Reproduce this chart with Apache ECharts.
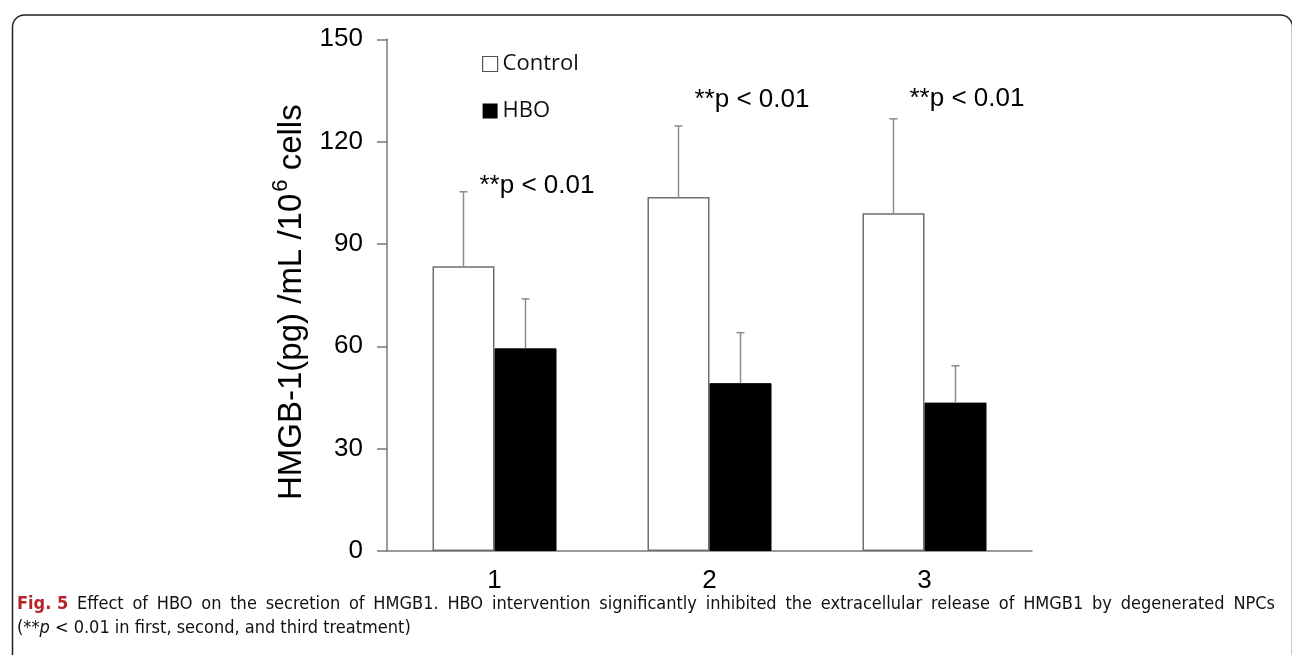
<!DOCTYPE html>
<html>
<head>
<meta charset="utf-8">
<style>
html,body{margin:0;padding:0;background:#fff;}
#c{width:1292px;height:655px;}
</style>
<script src="https://cdn.jsdelivr.net/npm/echarts@6/dist/echarts.min.js"></script>
</head>
<body>
<div id="c"></div>
<script>
var categories = ['1', '2', '3'];
var controlMean = [83.5, 103.8, 99.0];
var controlUpper = [105.3, 124.6, 126.7];
var hboMean = [59.4, 49.2, 43.5];
var hboUpper = [73.9, 64.0, 54.3];
var annotationText = ['**p < 0.01', '**p < 0.01', '**p < 0.01'];
var annotationValue = [107, 132.2, 132.6];
var yTicks = [0, 30, 60, 90, 120, 150];
var captionLabel = 'Fig. 5';
var captionLine1 = 'Effect of HBO on the secretion of HMGB1. HBO intervention significantly inhibited the extracellular release of HMGB1 by degenerated NPCs';

var chart = echarts.init(document.getElementById('c'));
var BAR_W = 62;

function errData(means, uppers) {
  return means.map(function (m, i) { return [i, m, uppers[i]]; });
}
function errRender(side) {
  return function (params, api) {
    var i = api.value(0);
    var p0 = api.coord([i, api.value(1)]);
    var p1 = api.coord([i, api.value(2)]);
    var x = p0[0] + side * BAR_W / 2;
    var style = { stroke: '#8c8c8c', lineWidth: 1.5 };
    return {
      type: 'group',
      children: [
        { type: 'line', shape: { x1: x, y1: p0[1], x2: x, y2: p1[1] }, style: style },
        { type: 'line', shape: { x1: x - 4, y1: p1[1], x2: x + 4, y2: p1[1] }, style: style }
      ]
    };
  };
}

var captionFamily = '"Liberation Sans Narrow", "DejaVu Sans Condensed", sans-serif';
var CAP_SIZE = 18;

// justified first caption line
var ctx = document.createElement('canvas').getContext('2d');
function measure(t, bold) {
  ctx.font = (bold ? 'bold ' : '') + CAP_SIZE + 'px ' + captionFamily;
  return ctx.measureText(t).width;
}
var words = [{ t: captionLabel, bold: true }].concat(captionLine1.split(' ').map(function (w) { return { t: w, bold: false }; }));
var capLeft = 17, capRight = 1275;
var totalW = 0;
words.forEach(function (w) { w.w = measure(w.t, w.bold); totalW += w.w; });
var gap = (capRight - capLeft - totalW) / (words.length - 1);
var captionEls = [];
var cx = capLeft;
words.forEach(function (w) {
  captionEls.push({
    type: 'text', x: cx, y: 604, silent: true,
    style: {
      text: w.t, fontFamily: captionFamily, fontSize: CAP_SIZE,
      fontWeight: w.bold ? 'bold' : 'normal',
      fill: w.bold ? '#b5232b' : '#111', verticalAlign: 'middle', align: 'left'
    }
  });
  cx += w.w + gap;
});
captionEls.push({
  type: 'text', x: capLeft, y: 628, silent: true,
  style: {
    text: '(**{i|p} < 0.01 in first, second, and third treatment)',
    fontFamily: captionFamily, fontSize: CAP_SIZE, fill: '#111', verticalAlign: 'middle', align: 'left',
    rich: { i: { fontFamily: captionFamily, fontSize: CAP_SIZE, fontStyle: 'italic', fill: '#111' } }
  }
});

var option = {
  animation: false,
  backgroundColor: '#fff',
  grid: { left: 387, right: 260, top: 39.3, bottom: 104, containLabel: false },
  legend: {
    orient: 'vertical',
    left: 477,
    top: 46,
    icon: 'rect',
    itemWidth: 15,
    itemHeight: 15,
    itemGap: 21,
    textStyle: { fontFamily: 'Open Sans', fontSize: 22, color: '#111', lineHeight: 26 },
    data: [
      { name: 'Control', itemStyle: { color: '#fff', borderColor: '#555', borderWidth: 1.2 } },
      { name: 'HBO', itemStyle: { color: '#000', borderColor: '#000', borderWidth: 0 } }
    ]
  },
  xAxis: {
    type: 'category',
    data: categories,
    axisLine: { lineStyle: { color: '#7a7a7a', width: 1.5 } },
    axisTick: { show: false },
    axisLabel: { fontFamily: 'Liberation Sans', fontSize: 26, color: '#000', margin: 17 }
  },
  yAxis: {
    type: 'value',
    min: 0,
    max: 150,
    interval: 30,
    splitLine: { show: false },
    axisLine: { show: true, lineStyle: { color: '#7a7a7a', width: 1.5 } },
    axisTick: { show: true, inside: false, length: 10, lineStyle: { color: '#7a7a7a', width: 1.5 } },
    axisLabel: {
      fontFamily: 'Liberation Sans', fontSize: 26, color: '#000', margin: 24,
      formatter: function (v) { return yTicks.indexOf(v) >= 0 ? String(v) : ''; }
    },
    name: '{a|HMGB-1(pg) /mL /10}{s|6}{a| cells}',
    nameLocation: 'middle',
    nameRotate: 90,
    nameGap: 79,
    nameTextStyle: {
      padding: [0, 14, 0, 0],
      rich: {
        a: { fontFamily: 'Liberation Sans', fontSize: 33, color: '#000', verticalAlign: 'bottom', lineHeight: 38 },
        s: { fontFamily: 'Liberation Sans', fontSize: 22, color: '#000', verticalAlign: 'top', lineHeight: 38, padding: [0, 0, 16, 2] }
      }
    }
  },
  series: [
    {
      name: 'Control', type: 'bar', data: controlMean, barWidth: BAR_W, barGap: '0%',
      itemStyle: { color: '#fff', borderColor: '#6e6e6e', borderWidth: 1.5 }
    },
    {
      name: 'HBO', type: 'bar', data: hboMean, barWidth: BAR_W, barGap: '0%',
      itemStyle: { color: '#000', borderColor: '#000', borderWidth: 1 }
    },
    {
      type: 'custom', name: 'ctrlErr', data: errData(controlMean, controlUpper),
      renderItem: errRender(-1), z: 5, silent: true
    },
    {
      type: 'custom', name: 'hboErr', data: errData(hboMean, hboUpper),
      renderItem: errRender(1), z: 5, silent: true
    },
    {
      type: 'custom', name: 'ann',
      data: annotationValue.map(function (v, i) { return [i, v]; }),
      z: 6, silent: true,
      renderItem: function (params, api) {
        var p = api.coord([api.value(0), api.value(1)]);
        return {
          type: 'text',
          x: p[0] - 15, y: p[1],
          style: {
            text: annotationText[params.dataIndex],
            fontFamily: 'Liberation Sans', fontSize: 26, fill: '#000',
            verticalAlign: 'middle', align: 'left'
          }
        };
      }
    }
  ],
  graphic: [
    {
      type: 'rect', left: 10, top: 12.5, silent: true,
      shape: { width: 1280, height: 700, r: 12 },
      style: { fill: 'none', stroke: '#222', lineWidth: 1.5 }
    }
  ].concat(captionEls)
};
chart.setOption(option);
</script>
</body>
</html>
